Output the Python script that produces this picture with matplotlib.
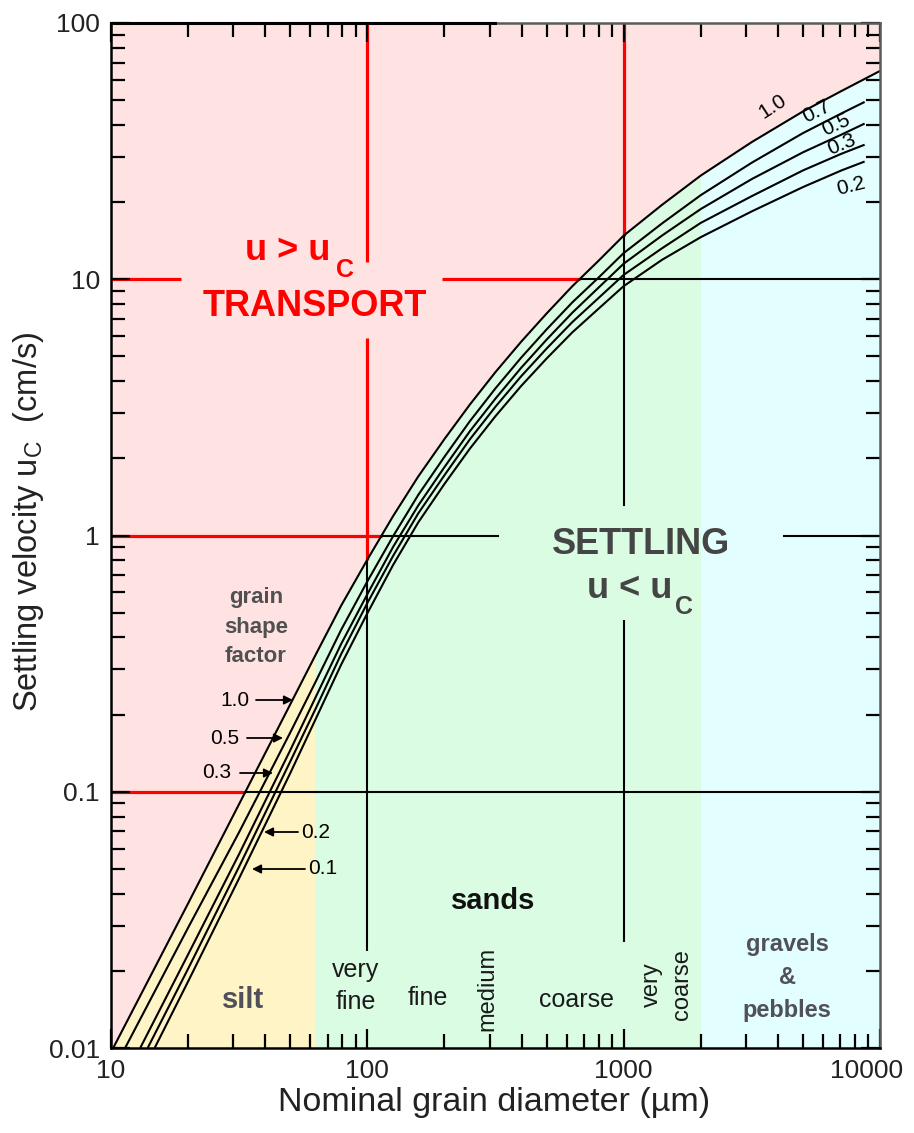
import numpy as np
import matplotlib
matplotlib.use("Agg")
import matplotlib.pyplot as plt
from matplotlib import font_manager as fm
from matplotlib.transforms import ScaledTranslation

# ---------------------------------------------------------------------------
# Settling velocity (cm/s) against nominal grain diameter (µm),
# one curve per grain shape factor
# ---------------------------------------------------------------------------
d_sf10 = [10.2, 20, 31.6, 50, 63, 79, 100, 126, 158, 200, 251, 316, 398, 501, 631,
          794, 1000, 1410, 2000, 3160, 5010, 7080, 10000]
u_sf10 = [0.01, 0.0367, 0.0895, 0.219, 0.344, 0.532, 0.805, 1.19, 1.70, 2.38, 3.24,
          4.34, 5.70, 7.36, 9.40, 11.75, 14.8, 19.5, 25.4, 34.3, 45.2, 54.3, 65.0]

d_sf07 = [11.35, 20, 31.6, 50, 63, 79, 100, 126, 158, 200, 251, 316, 398, 501, 631,
          794, 1000, 1410, 2000, 3160, 5010, 7080, 8710]
u_sf07 = [0.01, 0.0295, 0.0695, 0.170, 0.270, 0.428, 0.662, 0.993, 1.44, 2.03, 2.79,
          3.75, 4.94, 6.38, 8.13, 10.1, 12.65, 16.5, 21.3, 28.5, 37.2, 44.4, 49.2]

d_sf05 = [13.0, 20, 31.6, 50, 63, 79, 100, 126, 158, 200, 251, 316, 398, 501, 631,
          794, 1000, 1410, 2000, 3160, 5010, 7080, 8710]
u_sf05 = [0.01, 0.0232, 0.0571, 0.145, 0.235, 0.377, 0.590, 0.902, 1.31, 1.85, 2.55,
          3.42, 4.51, 5.82, 7.41, 9.23, 11.5, 14.8, 18.8, 24.6, 31.3, 36.7, 40.5]

d_sf03 = [13.9, 20, 31.6, 50, 63, 79, 100, 126, 158, 200, 251, 316, 398, 501, 631,
          794, 1000, 1410, 2000, 3160, 5010, 7080, 8710]
u_sf03 = [0.01, 0.0204, 0.051, 0.131, 0.212, 0.344, 0.545, 0.832, 1.22, 1.72, 2.37,
          3.18, 4.18, 5.37, 6.81, 8.41, 10.4, 13.2, 16.6, 21.1, 26.6, 30.9, 33.5]

d_sf02 = [14.8, 20, 31.6, 50, 63, 79, 100, 126, 158, 200, 251, 316, 398, 501, 631,
          794, 1000, 1410, 2000, 3160, 5010, 7080, 8710]
u_sf02 = [0.01, 0.0182, 0.0459, 0.118, 0.193, 0.313, 0.497, 0.767, 1.125, 1.59, 2.18,
          2.92, 3.83, 4.91, 6.21, 7.64, 9.40, 11.9, 14.6, 18.4, 22.9, 26.6, 28.8]

curve_d = [d_sf10, d_sf07, d_sf05, d_sf03, d_sf02]
curve_u = [u_sf10, u_sf07, u_sf05, u_sf03, u_sf02]

# shape-factor labels at the coarse end and at the fine end of the curves
labels_coarse = ["1.0", "0.7", "0.5", "0.3", "0.2"]
labels_fine = ["1.0", "0.5", "0.3", "0.2", "0.1"]

# grain-size class limits (µm)
silt_sand_limit = 62.5
sand_gravel_limit = 2000

x_ticks = [10, 100, 1000, 10000]
x_tick_labels = ["10", "100", "1000", "10000"]
y_ticks = [0.01, 0.1, 1, 10, 100]
y_tick_labels = ["0.01", "0.1", "1", "10", "100"]

# ---------------------------------------------------------------------------
def available(*names):
    for n in names:
        try:
            fm.findfont(fm.FontProperties(family=n), fallback_to_default=False)
            return n
        except Exception:
            continue
    return "DejaVu Sans"

SANS = available("Liberation Sans", "Arial", "DejaVu Sans")

plt.rcParams["font.family"] = [SANS, "DejaVu Sans"]
plt.rcParams["mathtext.fontset"] = "custom"
plt.rcParams["mathtext.rm"] = SANS
plt.rcParams["mathtext.bf"] = SANS + ":bold"

PINK = "#FFE3E3"
SILT = "#FFF4C6"
SAND = "#DAFCE3"
GRAVEL = "#E2FEFE"
RED = "#FF0000"
GREY = "#454545"

W, H = 914, 1133
fig = plt.figure(figsize=(W / 100, H / 100), dpi=100)
fig.patch.set_facecolor("white")

L, R, T, B = 111, 880, 23, 1048
ax = fig.add_axes([L / W, 1 - B / H, (R - L) / W, (B - T) / H])
ax.set_xscale("log")
ax.set_yscale("log")
ax.set_xlim(10, 10000)
ax.set_ylim(0.01, 100)


def P(x, y):
    """Figure-fraction position of a pixel location."""
    return x / W, 1 - y / H


# background: grain-size classes below the top curve, transport field above it
ax.axvspan(10, silt_sand_limit, color=SILT, lw=0, zorder=0)
ax.axvspan(silt_sand_limit, sand_gravel_limit, color=SAND, lw=0, zorder=0)
ax.axvspan(sand_gravel_limit, 10000, color=GRAVEL, lw=0, zorder=0)
ax.fill_between(d_sf10, u_sf10, 100, color=PINK, lw=0, zorder=0.5)
ax.axvspan(10, d_sf10[0], color=PINK, lw=0, zorder=0.5)

top_logd = np.log10(d_sf10)
top_logu = np.log10(u_sf10)


def d_on_top(u):
    return 10 ** np.interp(np.log10(u), top_logu, top_logd)


def u_on_top(d):
    return 10 ** np.interp(np.log10(d), top_logd, top_logu)


red_kw = dict(color=RED, lw=2.3, solid_capstyle="butt", zorder=1)
blk_kw = dict(color="black", lw=1.5, solid_capstyle="butt", zorder=1)

# horizontal guide lines
ax.plot([10, 18.8], [10, 10], **red_kw)
ax.plot([196, d_on_top(10)], [10, 10], **red_kw)
ax.plot([d_on_top(10), 10000], [10, 10], **blk_kw)
ax.plot([10, d_on_top(1)], [1, 1], **red_kw)
ax.plot([d_on_top(1), 326], [1, 1], **blk_kw)
ax.plot([4200, 10000], [1, 1], **blk_kw)
ax.plot([10, d_on_top(0.1)], [0.1, 0.1], **red_kw)
ax.plot([d_on_top(0.1), 10000], [0.1, 0.1], **blk_kw)

# vertical guide lines
ax.plot([100, 100], [100, 11.7], **red_kw)
ax.plot([100, 100], [5.9, u_on_top(100)], **red_kw)
ax.plot([100, 100], [u_on_top(100), 0.024], **blk_kw)
ax.plot([1000, 1000], [100, u_on_top(1000)], **red_kw)
ax.plot([1000, 1000], [u_on_top(1000), 1.3], **blk_kw)
ax.plot([1000, 1000], [0.47, 0.026], **blk_kw)

# settling curves
for d, u in zip(curve_d, curve_u):
    ax.plot(d, u, color="black", lw=1.5, solid_capstyle="butt", zorder=2,
            solid_joinstyle="round")

# axes frame and ticks
for side in ("left", "bottom"):
    ax.spines[side].set_linewidth(1.8)
    ax.spines[side].set_color("black")
for side in ("top", "right"):
    ax.spines[side].set_linewidth(1.8)
    ax.spines[side].set_color("#5a5a5a")
ax.plot([0, 0.5], [1, 1], transform=ax.transAxes, color="black", lw=2.2,
        clip_on=False, zorder=5)

ax.set_xticks(x_ticks)
ax.set_xticklabels(x_tick_labels)
ax.set_yticks(y_ticks)
ax.set_yticklabels(y_tick_labels)
ax.tick_params(which="both", direction="in", top=True, right=True, width=1.6,
               color="black", labelsize=19, labelcolor="#222222")
ax.tick_params(which="major", length=14)
ax.tick_params(which="minor", length=10)
ax.tick_params(axis="x", pad=8)
ax.tick_params(axis="y", pad=8)

# keep the last diameter label inside the figure
last = ax.get_xticklabels()[-1]
last.set_transform(last.get_transform()
                   + ScaledTranslation(-0.13, 0, fig.dpi_scale_trans))

# axis titles
fig.text(*P(494, 1103), "Nominal grain diameter (µm)", fontsize=24.5,
         ha="center", va="center", color="#222222")
fig.text(*P(29, 522), r"Settling velocity u$_{\mathrm{C}}$  (cm/s)", fontsize=23.5,
         rotation=90, ha="center", va="center", color="#222222")

# field annotations
fig.text(*P(288, 251), "u > u", fontsize=26, fontweight="bold", color=RED,
         ha="center", va="center")
fig.text(*P(345, 270), "C", fontsize=18, fontweight="bold", color=RED,
         ha="center", va="center")
fig.text(*P(315, 306), "TRANSPORT", fontsize=26, fontweight="bold", color=RED,
         ha="center", va="center")

fig.text(*P(641, 545), "SETTLING", fontsize=26, fontweight="bold", color=GREY,
         ha="center", va="center")
fig.text(*P(630, 588), "u < u", fontsize=26, fontweight="bold", color=GREY,
         ha="center", va="center")
fig.text(*P(684, 607), "C", fontsize=18, fontweight="bold", color=GREY,
         ha="center", va="center")

for y, word in zip((598, 628, 656), ("grain", "shape", "factor")):
    fig.text(*P(256, y), word, fontsize=16, fontweight="bold", color="#505050",
             ha="center", va="center")

# shape-factor call-outs on the fine end
fine_tags = [
    (labels_fine[0], (235, 700), (256, 700), (293, 700)),
    (labels_fine[1], (225, 738), (247, 738), (283, 738)),
    (labels_fine[2], (217, 773), (240, 773), (273, 773)),
    (labels_fine[3], (316, 832), (298, 832), (264, 832)),
    (labels_fine[4], (323, 869), (305, 869), (252, 869)),
]
for text, tpos, tail, tip in fine_tags:
    fig.text(*P(*tpos), text, fontsize=15, color="black", ha="center", va="center")
    ax.annotate("", xy=P(*tip), xycoords="figure fraction",
                xytext=P(*tail), textcoords="figure fraction",
                arrowprops=dict(arrowstyle="-|>", color="black", lw=1.3,
                                mutation_scale=13, shrinkA=0, shrinkB=0),
                zorder=4)

# shape-factor labels on the coarse end
coarse_tags = [
    (labels_coarse[0], (773, 106), 33),
    (labels_coarse[1], (817, 111), 27),
    (labels_coarse[2], (836, 125), 25),
    (labels_coarse[3], (842, 144), 22),
    (labels_coarse[4], (851, 186), 14),
]
for text, pos, rot in coarse_tags:
    fig.text(*P(*pos), text, fontsize=15, rotation=rot, color="black",
             ha="center", va="center")

# grain-size classes
fig.text(*P(493, 901), "sands", fontsize=21, fontweight="bold", color="#111111",
         ha="center", va="center")
fig.text(*P(243, 1000), "silt", fontsize=21, fontweight="bold", color="#50505a",
         ha="center", va="center")
for y, word in zip((944, 977, 1010), ("gravels", "&", "pebbles")):
    fig.text(*P(787, y), word, fontsize=17, fontweight="bold", color="#50505a",
             ha="center", va="center")

sub_kw = dict(color="#1a1a1a", ha="center", va="center")
fig.text(*P(356, 970), "very", fontsize=18, **sub_kw)
fig.text(*P(356, 1002), "fine", fontsize=18, **sub_kw)
fig.text(*P(428, 998), "fine", fontsize=18, **sub_kw)
fig.text(*P(487, 989), "medium", fontsize=17, rotation=90, **sub_kw)
fig.text(*P(576, 1000), "coarse", fontsize=18, **sub_kw)
fig.text(*P(652, 985), "very", fontsize=17, rotation=90, **sub_kw)
fig.text(*P(682, 985), "coarse", fontsize=17, rotation=90, **sub_kw)

fig.savefig("out.png", dpi=100, facecolor="white")
